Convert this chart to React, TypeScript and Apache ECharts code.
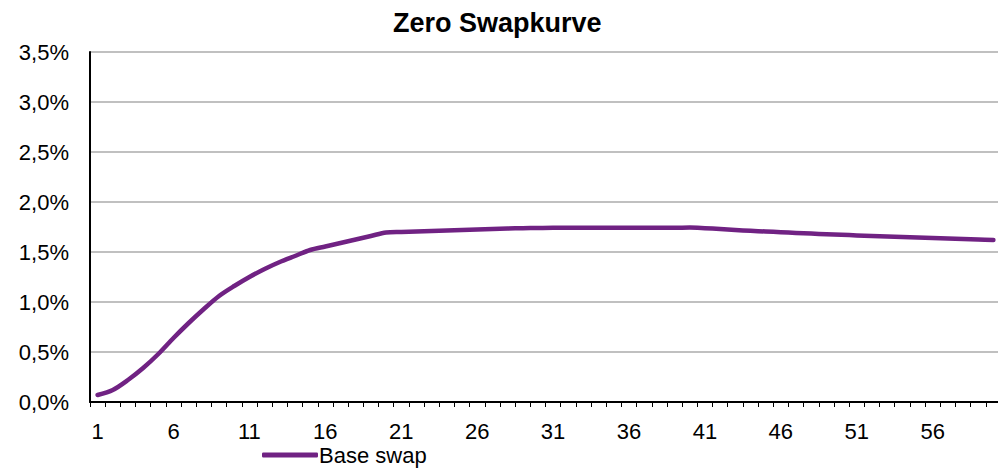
import React, { useEffect, useRef } from "react";
import * as echarts from "echarts";

const maturities: string[] = Array.from({ length: 60 }, (_, i) => String(i + 1));
const baseSwap: number[] = [
  0.07, 0.12, 0.22, 0.34, 0.48, 0.64, 0.79, 0.93, 1.06, 1.16,
  1.25, 1.33, 1.40, 1.46, 1.52, 1.555, 1.59, 1.625, 1.66, 1.695,
  1.70, 1.705, 1.71, 1.715, 1.72, 1.725, 1.73, 1.735, 1.738, 1.74,
  1.742, 1.742, 1.742, 1.742, 1.742, 1.742, 1.742, 1.743, 1.743, 1.744,
  1.738, 1.73, 1.72, 1.712, 1.705, 1.698, 1.69, 1.684, 1.678, 1.672,
  1.666, 1.66, 1.655, 1.65, 1.645, 1.64, 1.635, 1.63, 1.625, 1.62,
];
const titleText = "Zero Swapkurve";
const seriesName = "Base swap";

export default function App() {
  const ref = useRef<HTMLDivElement>(null);
  useEffect(() => {
    if (!ref.current) return;
    const chart = echarts.init(ref.current, null, { renderer: "svg" });
    const font = "Arial, 'Liberation Sans', sans-serif";
    chart.setOption({
      animation: false,
      backgroundColor: "#ffffff",
      title: {
        text: titleText,
        left: 388,
        top: 4,
        textStyle: { fontFamily: font, fontSize: 27, fontWeight: "bold", color: "#000" },
      },
      legend: {
        data: [seriesName],
        left: 262,
        top: 444,
        padding: 0,
        icon: "roundRect",
        itemWidth: 56,
        itemHeight: 5,
        itemGap: 4,
        textStyle: { fontFamily: font, fontSize: 22, lineHeight: 22, color: "#000", padding: [0, 0, 0, -4] },
      },
      grid: { left: 90, right: 0, top: 52, bottom: 67, containLabel: false },
      xAxis: {
        type: "category",
        data: maturities,
        boundaryGap: true,
        axisLine: { show: true, lineStyle: { color: "#000", width: 2 } },
        axisTick: { show: true, interval: 0, length: 5, lineStyle: { color: "#000", width: 1 } },
        axisLabel: { interval: 4, margin: 18, fontFamily: font, fontSize: 22, color: "#000" },
        splitLine: { show: false },
      },
      yAxis: {
        type: "value",
        min: 0,
        max: 3.5,
        interval: 0.5,
        axisLine: { show: true, lineStyle: { color: "#000", width: 2 } },
        axisTick: { show: false },
        axisLabel: {
          margin: 21,
          fontFamily: font,
          fontSize: 22,
          color: "#000",
          formatter: (v: number) => v.toFixed(1).replace(".", ",") + "%",
        },
        splitLine: { show: true, lineStyle: { color: "#c0c0c0", width: 2 } },
      },
      series: [
        {
          name: seriesName,
          type: "line",
          data: baseSwap,
          smooth: 0.3,
          symbol: "none",
          lineStyle: { color: "#702283", width: 4.5, cap: "round", join: "round" },
          itemStyle: { color: "#702283" },
        },
      ],
    });
    return () => chart.dispose();
  }, []);
  return (
    <div
      ref={ref}
      style={{ position: "fixed", left: 0, top: 0, width: 1001, height: 469 }}
    />
  );
}
